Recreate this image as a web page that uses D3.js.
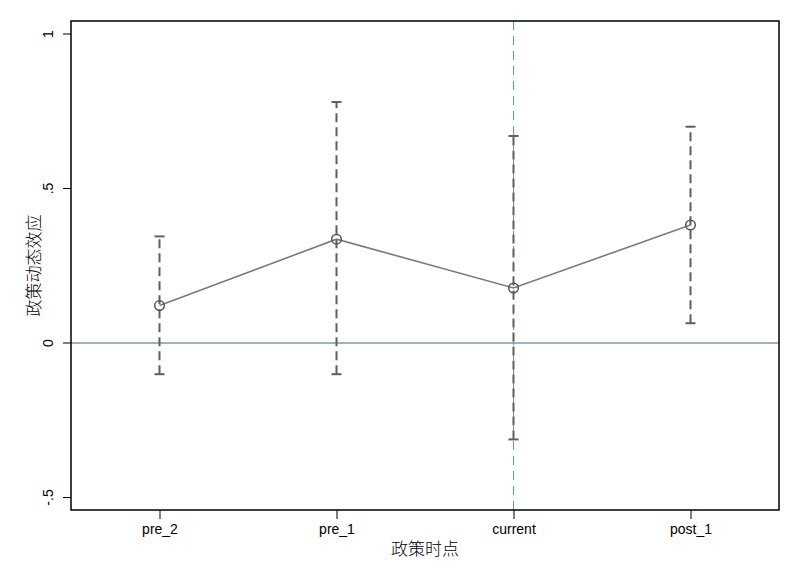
<!DOCTYPE html>
<html><head><meta charset="utf-8">
<script src="https://cdn.jsdelivr.net/npm/d3@7"></script>
<style>body{margin:0;background:#fff}svg{display:block}</style>
</head><body>
<script>
const categories = ["pre_2","pre_1","current","post_1"];
const estimates = [0.121, 0.336, 0.178, 0.382];
const ciLower = [-0.101, -0.101, -0.312, 0.064];
const ciUpper = [0.345, 0.780, 0.670, 0.700];
const yTicks = [-0.5, 0, 0.5, 1];
const yTickLabels = ["-.5","0",".5","1"];
const refCategory = "current";

const W=800,H=581;
const m={l:71,r:21,t:21,b:71};
const svg=d3.select("body").append("svg").attr("width",W).attr("height",H);
const x=d3.scalePoint().domain(categories).range([m.l,W-m.r]).padding(0.5);
const y=d3.scaleLinear().domain([-0.5,1]).range([497.5,34]);

const g=svg.append("g");
g.append("line").attr("x1",m.l).attr("x2",W-m.r).attr("y1",y(0)).attr("y2",y(0))
 .attr("stroke","#7f98ad").attr("stroke-width",1.6);
g.append("line").attr("x1",x(refCategory)).attr("x2",x(refCategory)).attr("y1",m.t).attr("y2",H-m.b)
 .attr("stroke","#5e9c9c").attr("stroke-width",1).attr("stroke-dasharray","9,6");

const ci=g.selectAll(".ci").data(categories).enter().append("g");
ci.append("line").attr("x1",d=>x(d)).attr("x2",d=>x(d))
 .attr("y1",(d,i)=>y(ciLower[i])).attr("y2",(d,i)=>y(ciUpper[i]))
 .attr("stroke","#5f5f5f").attr("stroke-width",2).attr("stroke-dasharray","9,5");
ci.append("line").attr("x1",d=>x(d)-5).attr("x2",d=>x(d)+5)
 .attr("y1",(d,i)=>y(ciLower[i])).attr("y2",(d,i)=>y(ciLower[i]))
 .attr("stroke","#5f5f5f").attr("stroke-width",2);
ci.append("line").attr("x1",d=>x(d)-5).attr("x2",d=>x(d)+5)
 .attr("y1",(d,i)=>y(ciUpper[i])).attr("y2",(d,i)=>y(ciUpper[i]))
 .attr("stroke","#5f5f5f").attr("stroke-width",2);

g.append("path").datum(categories)
 .attr("d",d3.line().x(d=>x(d)).y((d,i)=>y(estimates[i])))
 .attr("fill","none").attr("stroke","#7a7a7a").attr("stroke-width",1.6);
g.selectAll(".pt").data(categories).enter().append("circle")
 .attr("cx",d=>x(d)).attr("cy",(d,i)=>y(estimates[i])).attr("r",4.8)
 .attr("fill","none").attr("stroke","#555").attr("stroke-width",1.5);

svg.append("rect").attr("x",m.l).attr("y",m.t).attr("width",W-m.l-m.r).attr("height",H-m.t-m.b)
 .attr("fill","none").attr("stroke","#000").attr("stroke-width",1.5);

const ya=svg.append("g").attr("transform",`translate(${m.l},0)`)
 .call(d3.axisLeft(y).tickValues(yTicks).tickSize(8).tickFormat((d,i)=>yTickLabels[i]));
ya.select(".domain").remove();
ya.selectAll("line").attr("stroke","#000");
ya.selectAll(".tick").attr("transform",null);
ya.selectAll(".tick line").attr("y1",d=>y(d)).attr("y2",d=>y(d));
ya.selectAll("text").attr("x",0).attr("y",0).attr("dy",0)
 .attr("transform",d=>`translate(-18,${y(d)}) rotate(-90)`)
 .attr("text-anchor","middle")
 .style("font-family","Liberation Sans, Arial, sans-serif").style("font-size","14px").attr("fill","#000");

const xa=svg.append("g").attr("transform",`translate(0,${H-m.b})`)
 .call(d3.axisBottom(x).tickSize(9).tickPadding(5));
xa.select(".domain").remove();
xa.selectAll("line").attr("stroke","#000");
xa.selectAll("text").style("font-family","Liberation Sans, Arial, sans-serif").style("font-size","14px").attr("fill","#000");

svg.append("text").attr("x",(m.l+W-m.r)/2).attr("y",555).attr("text-anchor","middle")
 .style("font-family","Noto Sans CJK SC").style("font-size","17px").style("font-weight","300").text("政策时点");
svg.append("text").attr("transform",`translate(40,${(m.t+H-m.b)/2}) rotate(-90)`).attr("text-anchor","middle")
 .style("font-family","Noto Sans CJK SC").style("font-size","17px").style("font-weight","300").text("政策动态效应");
</script>
</body></html>
